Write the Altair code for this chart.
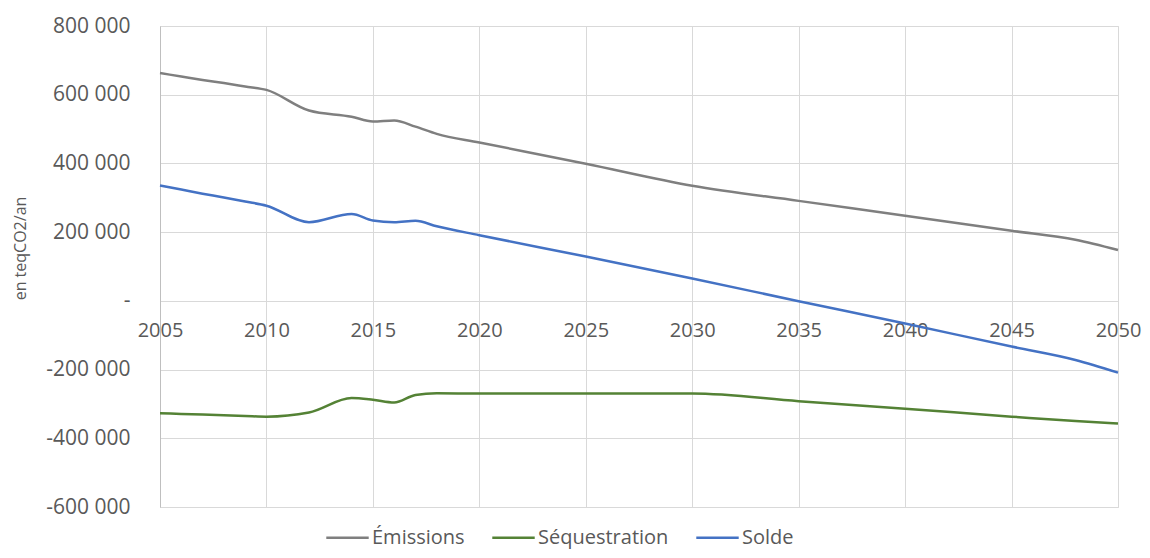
import altair as alt
import pandas as pd

years = [2005, 2006, 2007, 2008, 2009, 2010, 2012, 2014, 2015, 2016, 2017, 2018, 2020, 2025, 2030, 2035, 2040, 2045, 2048, 2050]
emissions = [663000, 653000, 643000, 634000, 624000, 614000, 554000, 536000, 522000, 525000, 507000, 486000, 461000, 399000, 335000, 291000, 248000, 204000, 178000, 148000]
sequestration = [-327000, -329000, -331000, -333000, -335000, -337000, -325000, -283000, -288000, -296000, -274000, -269000, -270000, -270000, -270000, -292000, -314000, -337000, -350000, -357000]
solde = [336000, 324000, 312000, 301000, 289000, 277000, 229000, 253000, 234000, 229000, 233000, 217000, 191000, 129000, 65000, -1000, -66000, -133000, -172000, -209000]

series_names = ["Émissions", "Séquestration", "Solde"]
series_colors = ["#7f7f7f", "#548235", "#4472c4"]
x_ticks = list(range(2005, 2051, 5))
y_ticks = list(range(-600000, 800001, 200000))

rows = []
for name, vals in zip(series_names, [emissions, sequestration, solde]):
    for yr, v in zip(years, vals):
        rows.append({"Année": yr, "Valeur": v, "Série": name})
df = pd.DataFrame(rows)

FONT = "Open Sans"
TXT = "#595959"

chart = alt.Chart(df).mark_line(interpolate="monotone", strokeWidth=2.5).encode(
    x=alt.X("Année:Q",
            scale=alt.Scale(domain=[2005, 2050], nice=False, zero=False),
            axis=alt.Axis(values=x_ticks, format="d", title=None, offset=-206,
                          domain=False, ticks=False, labelPadding=29, labelBaseline="middle",
                          labelFontSize=20, labelFont=FONT, labelColor=TXT,
                          gridColor="#d9d9d9", labelFlush=False, labelOverlap=False)),
    y=alt.Y("Valeur:Q",
            scale=alt.Scale(domain=[-600000, 800000], nice=False),
            axis=alt.Axis(values=y_ticks, title="en teqCO2/an",
                          labelExpr="datum.value == 0 ? '-' : (datum.value < 0 ? '-' : '') + replace(format(abs(datum.value), ','), ',', ' ')",
                          domain=True, domainColor="#bfbfbf", ticks=False, labelPadding=30,
                          labelFontSize=21, labelFont=FONT, labelColor=TXT,
                          gridColor="#d9d9d9",
                          titleFont=FONT, titleFontSize=16, titleFontWeight="normal", titleColor=TXT,
                          titleAngle=270, titleX=-140, titleY=222, titleAlign="center",
                          titleBaseline="middle")),
    color=alt.Color("Série:N",
                    scale=alt.Scale(domain=series_names, range=series_colors),
                    sort=series_names,
                    legend=alt.Legend(title=None, orient="none", direction="horizontal",
                                      legendX=165, legendY=489,
                                      symbolType="stroke", symbolSize=1800, symbolStrokeWidth=2.5,
                                      labelFont=FONT, labelFontSize=20, labelColor=TXT,
                                      labelOffset=2, columnPadding=22)),
).properties(
    width=958, height=481,
    autosize=alt.AutoSizeParams(type="none"),
    padding={"left": 152, "top": 18, "right": 24, "bottom": 43},
).configure_view(stroke=None).configure(background="white")

chart.save("out.html", embed_options={"renderer": "svg", "actions": False})
